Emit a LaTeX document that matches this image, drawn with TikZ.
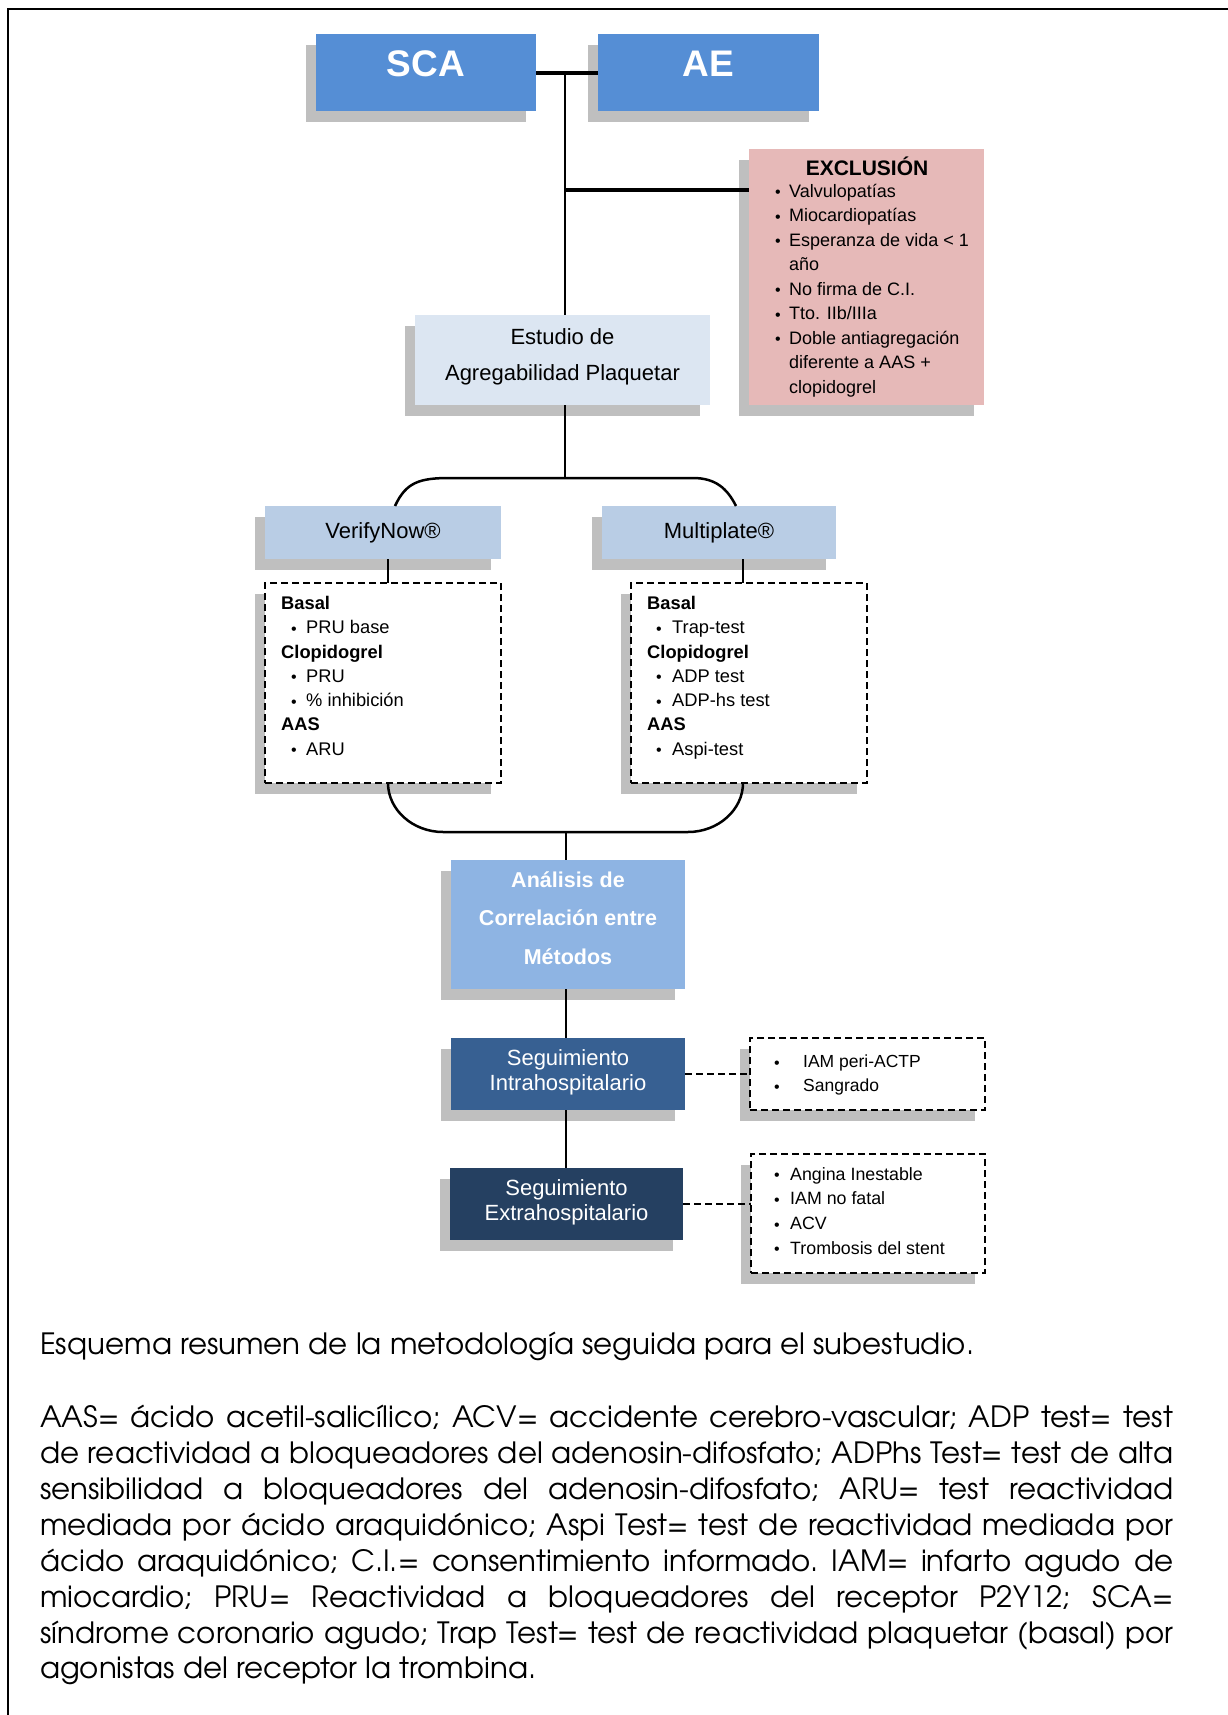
\documentclass[tikz,border=0pt]{standalone}
\usepackage{fontspec}
\setmainfont{Liberation Sans}
\newfontfamily\capfont{texgyreadventor-regular.otf}
\usetikzlibrary{calc,shadows}
\definecolor{scablue}{HTML}{558ED5}
\definecolor{exclpink}{HTML}{E6B9B8}
\definecolor{estudio}{HTML}{DCE6F2}
\definecolor{vnblue}{HTML}{B9CDE5}
\definecolor{anablue}{HTML}{8EB4E3}
\definecolor{intrablue}{HTML}{376092}
\definecolor{extrablue}{HTML}{254061}
\definecolor{shadowgray}{HTML}{BFBFBF}
\newcommand{\smallbul}{\raisebox{-0.5pt}{\fontsize{16}{16}\selectfont\textbullet}}
\newcommand{\bl}[2][15pt]{\makebox[#1][l]{\smallbul}#2}
\newcommand{\ct}[1][15pt]{\hspace*{#1}}
\tikzset{
  shad/.style={drop shadow={shadow xshift=-10pt, shadow yshift=-11pt, fill=shadowgray, draw=none, opacity=1}},
  filledbox/.style={shad, inner sep=0pt, outer sep=0pt, anchor=north west, align=center},
  dashbox/.style={shad, fill=white, draw=black, line width=1.3pt, dash pattern=on 7pt off 4pt, inner sep=0pt, outer sep=0pt, anchor=north west},
  conn/.style={line width=2.5pt, black},
  dconn/.style={line width=1.3pt, black, dash pattern=on 7pt off 4pt},
  itemtext/.style={inner sep=0pt, anchor=north west, align=left, text=black},
  capstyle/.style={inner sep=0pt, anchor=base west, text=black, font=\capfont\fontsize{29.3}{29.3}\selectfont\frenchspacing}
}
\begin{document}
\begin{tikzpicture}[x=1pt,y=-1pt]
\useasboundingbox (0,0) rectangle (1228,1715);
\draw[line width=2.5pt] (1228,9) -- (8,9) -- (8,1715);
% boxes
\node[filledbox, fill=scablue, minimum width=220pt, minimum height=77pt, text=white, font=\fontsize{37}{37}\selectfont\bfseries, text depth=17pt] (sca) at (316,34) {SCA};
\node[filledbox, fill=scablue, minimum width=221pt, minimum height=77pt, text=white, font=\fontsize{37}{37}\selectfont\bfseries, text depth=17pt] (ae) at (598,34) {AE};
\node[filledbox, fill=exclpink, minimum width=235pt, minimum height=256pt] (excl) at (749,149) {};
\node[inner sep=0pt, font=\fontsize{21}{21}\selectfont\bfseries] (exclT) at (867,166) {EXCLUSIÓN};
\node[itemtext, font=\fontsize{18}{24.5}\selectfont] (exclL) at (775,184) {\bl[14pt]{Valvulopatías}\\ \bl[14pt]{Miocardiopatías}\\ \bl[14pt]{Esperanza de vida < 1}\\ \ct[14pt]año\\ \bl[14pt]{No firma de C.I.}\\ \bl[14pt]{Tto. IIb/IIIa}\\ \bl[14pt]{Doble antiagregación}\\ \ct[14pt]diferente a AAS +\\ \ct[14pt]clopidogrel};
\node[filledbox, fill=estudio, minimum width=295pt, minimum height=90pt, font=\fontsize{22}{36}\selectfont, text depth=11.6pt] (est) at (415,315) {Estudio de\\Agregabilidad Plaquetar};
\node[filledbox, fill=vnblue, minimum width=236pt, minimum height=53pt, font=\fontsize{22}{22}\selectfont] (vn) at (265,506) {VerifyNow®};
\node[filledbox, fill=vnblue, minimum width=234pt, minimum height=53pt, font=\fontsize{22}{22}\selectfont] (mp) at (602,506) {Multiplate®};
\node[dashbox, minimum width=236pt, minimum height=200pt] (vnd) at (265,583) {};
\node[dashbox, minimum width=236pt, minimum height=200pt] (mpd) at (631,583) {};
\node[itemtext, font=\fontsize{18.3}{24.3}\selectfont] (vndT) at (281,596) {\textbf{Basal}\\ \ct[10pt]\bl{PRU base}\\ \textbf{Clopidogrel}\\ \ct[10pt]\bl{PRU}\\ \ct[10pt]\bl{\% inhibición}\\ \textbf{AAS}\\ \ct[10pt]\bl{ARU}};
\node[itemtext, font=\fontsize{18.3}{24.3}\selectfont] (mpdT) at (647,596) {\textbf{Basal}\\ \ct[9pt]\bl[16pt]{Trap-test}\\ \textbf{Clopidogrel}\\ \ct[9pt]\bl[16pt]{ADP test}\\ \ct[9pt]\bl[16pt]{ADP-hs test}\\ \textbf{AAS}\\ \ct[9pt]\bl[16pt]{Aspi-test}};
\node[filledbox, fill=anablue, minimum width=234pt, minimum height=129pt, text=white, font=\fontsize{21.5}{38.5}\selectfont\bfseries, text depth=13pt] (ana) at (451,860) {Análisis de\\Correlación entre\\Métodos};
\node[filledbox, fill=intrablue, minimum width=234pt, minimum height=72pt, text=white, font=\fontsize{22}{25}\selectfont, text depth=8.6pt] (intra) at (451,1038) {Seguimiento\\Intrahospitalario};
\node[dashbox, minimum width=235pt, minimum height=72pt] (intrad) at (750,1038) {};
\node[itemtext, font=\fontsize{17.5}{24}\selectfont] (intradT) at (774,1055) {\bl[29pt]{IAM peri-ACTP}\\ \bl[29pt]{Sangrado}};
\node[filledbox, fill=extrablue, minimum width=233pt, minimum height=72pt, text=white, font=\fontsize{22}{25}\selectfont, text depth=8.6pt] (extra) at (450,1168) {Seguimiento\\Extrahospitalario};
\node[dashbox, minimum width=234pt, minimum height=119pt] (extrad) at (751,1154) {};
\node[itemtext, font=\fontsize{17.8}{24.7}\selectfont] (extradT) at (774,1167) {\bl[16pt]{Angina Inestable}\\ \bl[16pt]{IAM no fatal}\\ \bl[16pt]{ACV}\\ \bl[16pt]{Trombosis del stent}};
% connectors
\coordinate (j1) at (565,73);
\coordinate (j2) at (565,190);
\coordinate (b1) at (565,478);
\coordinate (b2) at (566,832);
\coordinate (vx) at (388,0);
\coordinate (mx) at (743,0);
\coordinate (tl) at (450,478);
\coordinate (tr) at (693,478);
\coordinate (cl) at (443,832);
\coordinate (cr) at (688,832);
\draw[conn, line width=3.5pt] (sca.east |- j1) -- (ae.west |- j1);
\draw[conn] (j1) -- (j1 |- est.north);
\draw[conn, line width=3.5pt] (j2) -- (j2 -| excl.west);
\draw[conn] (j1 |- est.south) -- (b1);
\draw[conn] ($(vn.north)+(12,0)$) .. controls +(11,-24) and +(-30,0) .. (tl) -- (tr) .. controls +(22,0) and +(-9,-18) .. ($(mp.north)+(17,0)$);
\draw[conn] (vx |- vn.south) -- (vx |- vnd.north);
\draw[conn] (mx |- mp.south) -- (mx |- mpd.north);
\draw[conn] (vx |- vnd.south) .. controls +(0,27) and +(-30,0) .. (cl) -- (cr) .. controls +(30,0) and +(0,27) .. (mx |- mpd.south);
\draw[conn] (b2) -- (b2 |- ana.north);
\draw[conn] (b2 |- ana.south) -- (b2 |- intra.north);
\draw[conn] (b2 |- intra.south) -- (b2 |- extra.north);
\draw[dconn] (intra.east) -- (intrad.west);
\draw[dconn] (extra.east) -- (extra.east -| extrad.west);
% caption
\node[capstyle] (cap0) at (40,1354) {Esquema resumen de la metodología seguida para el subestudio.};
\node[capstyle] (p1) at (40,1427) {\makebox[1133pt][s]{AAS= ácido acetil-salicílico; ACV= accidente cerebro-vascular; ADP test= test}};
\node[capstyle] (p2) at (40,1463) {\makebox[1133pt][s]{de reactividad a bloqueadores del adenosin-difosfato; ADPhs Test= test de alta}};
\node[capstyle] (p3) at (40,1499) {\makebox[1133pt][s]{sensibilidad a bloqueadores del adenosin-difosfato; ARU= test reactividad}};
\node[capstyle] (p4) at (40,1535) {\makebox[1133pt][s]{mediada por ácido araquidónico; Aspi Test= test de reactividad mediada por}};
\node[capstyle] (p5) at (40,1571) {\makebox[1133pt][s]{ácido araquidónico; C.I.= consentimiento informado. IAM= infarto agudo de}};
\node[capstyle] (p6) at (40,1607) {\makebox[1133pt][s]{miocardio; PRU= Reactividad a bloqueadores del receptor P2Y12; SCA=}};
\node[capstyle] (p7) at (40,1643) {\makebox[1133pt][s]{síndrome coronario agudo; Trap Test= test de reactividad plaquetar (basal) por}};
\node[capstyle] (p8) at (40,1678) {agonistas del receptor la trombina.};
\end{tikzpicture}
\end{document}
